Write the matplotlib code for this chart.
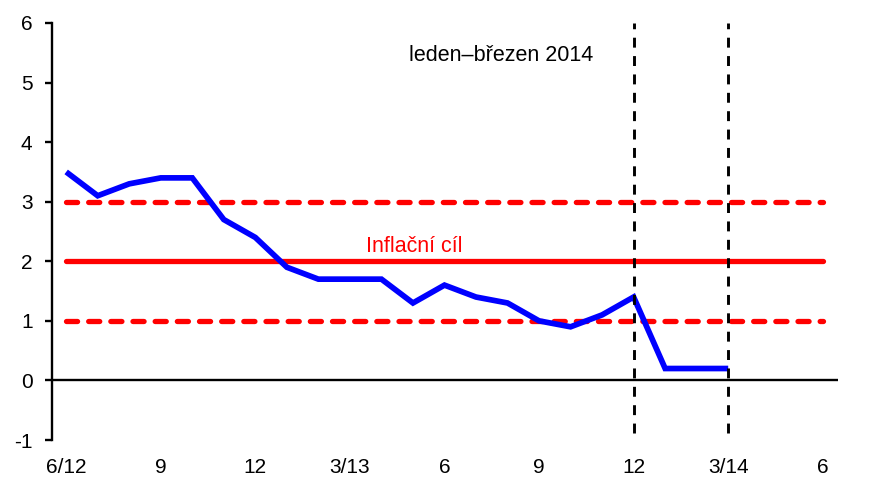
import matplotlib.pyplot as plt

plt.rcParams['font.family'] = ['Liberation Sans', 'DejaVu Sans']
plt.rcParams['axes.unicode_minus'] = False

months = list(range(25))  # 6/12 .. 6/14
tick_pos = [0, 3, 6, 9, 12, 15, 18, 21, 24]
tick_labels = ['6/12', '9', '12', '3/13', '6', '9', '12', '3/14', '6']

inflation = [3.5, 3.1, 3.3, 3.4, 3.4, 2.7, 2.4, 1.9, 1.7, 1.7, 1.7, 1.3,
             1.6, 1.4, 1.3, 1.0, 0.9, 1.1, 1.4, 0.2, 0.2, 0.2]
target = 2
band_low = 1
band_high = 3
period_lines = [18, 21]

fig = plt.figure(figsize=(8.71, 4.87), dpi=100)
ax = fig.add_axes([0.0597, 0.0965, 0.9023, 0.8563])

ax.plot(months, [target] * len(months), color='#ff0000', lw=3.8, solid_capstyle='round')
for v in (band_low, band_high):
    ax.plot(months, [v] * len(months), color='#ff0000', lw=3.8,
            dashes=(2.1, 2.1), dash_capstyle='round')
ax.plot(months[:len(inflation)], inflation, color='#0000ff', lw=4.1,
        solid_joinstyle='miter', solid_capstyle='butt')

ax.vlines(period_lines, -0.88, 6, colors='black', lw=2.1, linestyles=(0, (3.4, 2.9)))
ax.axhline(0, color='black', lw=1.7)

ax.text(13.8, 5.45, 'leden–březen 2014', ha='center', va='center', fontsize=15.5)
ax.text(11.05, 2.24, 'Inflační cíl', ha='center', va='center', fontsize=15.5, color='#ff0000')

ax.set_xlim(-0.45, 24.48)
ax.set_ylim(-1, 6)
ax.set_yticks(range(-1, 7))
ax.set_xticks(tick_pos)
ax.set_xticklabels(tick_labels)
for s in ('top', 'right', 'bottom'):
    ax.spines[s].set_visible(False)
ax.spines['left'].set_linewidth(1.7)
ax.tick_params(axis='y', direction='out', length=5, width=1.7, pad=9, labelsize=15)
ax.tick_params(axis='x', length=0, pad=13, labelsize=15)

fig.savefig('out.png', dpi=100)
